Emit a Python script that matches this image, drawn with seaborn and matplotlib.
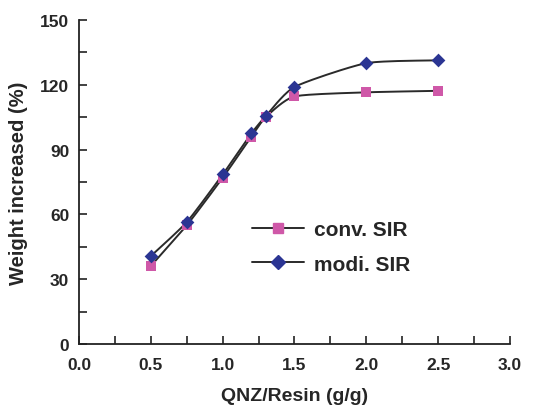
import numpy as np
import matplotlib
matplotlib.use("Agg")
import matplotlib.pyplot as plt
import seaborn as sns
from matplotlib.ticker import MultipleLocator
from matplotlib.lines import Line2D

ratio = [0.5, 0.75, 1.0, 1.2, 1.3, 1.5, 2.0, 2.5]
conv_sir = [36.2, 55.0, 77.0, 96.0, 105.0, 114.6, 116.5, 117.2]
modi_sir = [40.8, 56.5, 78.5, 97.5, 105.5, 119.0, 130.0, 131.3]

sns.set_style("white")
plt.rcParams['font.family'] = ['Liberation Sans', 'DejaVu Sans']
plt.rcParams['font.weight'] = 'bold'


def smooth(x, y, n=20, k=0.1):
    # bezier smoothing through the points, similar to Excel's smoothed line
    x = np.asarray(x, float)
    y = np.asarray(y, float)
    px = np.concatenate([[x[0]], x, [x[-1]]])
    py = np.concatenate([[y[0]], y, [y[-1]]])
    xs, ys = [], []
    t = np.linspace(0, 1, n)
    for i in range(1, len(px) - 2):
        p0, p1, p2, p3 = [np.array([px[j], py[j]]) for j in range(i - 1, i + 3)]
        c1 = p1 + (p2 - p0) * k
        c2 = p2 - (p3 - p1) * k
        pts = ((1 - t) ** 3)[:, None] * p1 + (3 * (1 - t) ** 2 * t)[:, None] * c1 \
            + (3 * (1 - t) * t ** 2)[:, None] * c2 + (t ** 3)[:, None] * p2
        xs.extend(pts[:, 0])
        ys.extend(pts[:, 1])
    return np.array(xs), np.array(ys)


pink = '#CF58A8'
blue = '#2B3593'
line_col = '#2a2a2a'

fig, ax = plt.subplots(figsize=(5.53, 4.10), dpi=100)
fig.subplots_adjust(left=0.143, right=0.922, top=0.949, bottom=0.158)

for yv, col, mk, ms in [(conv_sir, pink, 's', 7.5), (modi_sir, blue, 'D', 7)]:
    sx, sy = smooth(ratio, yv)
    ax.plot(sx, sy, color=line_col, lw=1.4, zorder=2)
    sns.scatterplot(x=ratio, y=yv, marker=mk, color=col, s=ms ** 2,
                    edgecolor=col, linewidth=0, ax=ax, zorder=3)

ax.set_xlim(0, 3.0)
ax.set_ylim(0, 150)
ax.xaxis.set_major_locator(MultipleLocator(0.5))
ax.xaxis.set_minor_locator(MultipleLocator(0.25))
ax.yaxis.set_major_locator(MultipleLocator(30))
ax.yaxis.set_minor_locator(MultipleLocator(15))
ax.xaxis.set_major_formatter(matplotlib.ticker.FormatStrFormatter('%.1f'))
ax.tick_params(which='both', direction='in', length=6, width=1.2, color='#222222',
               labelsize=12.5, bottom=True, left=True)
ax.tick_params(axis='x', pad=9)
ax.tick_params(axis='y', pad=7)
for s in ['top', 'right']:
    ax.spines[s].set_visible(False)
for s in ['left', 'bottom']:
    ax.spines[s].set_color('#222222')
    ax.spines[s].set_linewidth(1.3)

ax.set_xlabel('QNZ/Resin (g/g)', fontsize=14, fontweight='bold', labelpad=11)
ax.set_ylabel('Weight increased (%)', fontsize=14.5, fontweight='bold', labelpad=9)

handles = [
    Line2D([], [], color=line_col, lw=1.4, marker='s', markersize=7.5,
           markerfacecolor=pink, markeredgecolor=pink),
    Line2D([], [], color=line_col, lw=1.4, marker='D', markersize=7,
           markerfacecolor=blue, markeredgecolor=blue),
]
ax.legend(handles, ['conv. SIR', 'modi. SIR'], loc='center', bbox_to_anchor=(0.585, 0.3),
          frameon=False, fontsize=15, handlelength=2.5, handletextpad=0.45,
          labelspacing=0.75)

fig.savefig('out.png', dpi=100)
